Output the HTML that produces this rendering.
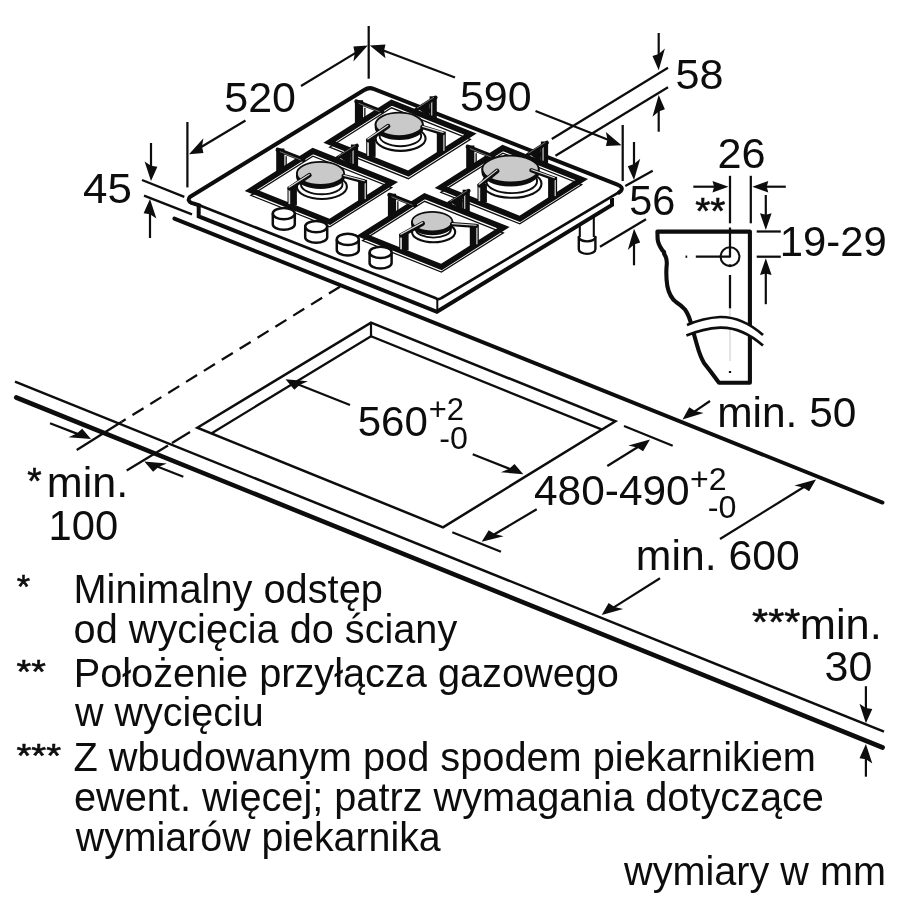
<!DOCTYPE html>
<html lang="pl">
<head>
<meta charset="utf-8">
<title>Wymiary płyty gazowej</title>
<style>
html,body{margin:0;padding:0;background:#fff;}
body{width:900px;height:900px;overflow:hidden;}
svg{display:block;}
text{font-family:"Liberation Sans",Arial,Helvetica,sans-serif;}
svg{will-change:transform;}
</style>
</head>
<body>
<svg width="900" height="900" viewBox="0 0 900 900">
<rect width="900" height="900" fill="#fff"/>
<line x1="174.4" y1="218.6" x2="882.5" y2="502.6" stroke="#0d0d0d" stroke-width="3.9" stroke-linecap="round" />
<line x1="15.0" y1="381.7" x2="884.0" y2="731.7" stroke="#0d0d0d" stroke-width="2.5" stroke-linecap="butt" />
<line x1="16.2" y1="397.5" x2="882.6" y2="747.5" stroke="#0d0d0d" stroke-width="4.6" stroke-linecap="round" />
<path d="M197.3,427.7 L371,322.7 L615.4,421.3 L443,527.3 Z" fill="none" stroke="#0d0d0d" stroke-width="2.5" stroke-linejoin="miter"/>
<path d="M211.7,433.2 L371,336.3 L601.5,429.4" fill="none" stroke="#0d0d0d" stroke-width="2.3" />
<line x1="371.0" y1="322.7" x2="371.0" y2="336.3" stroke="#0d0d0d" stroke-width="2.2" stroke-linecap="butt" />
<line x1="340.0" y1="286.7" x2="121.7" y2="421.7" stroke="#0d0d0d" stroke-width="2.25" stroke-linecap="butt" stroke-dasharray="13 8"/>
<line x1="121.7" y1="421.7" x2="76.7" y2="450.0" stroke="#0d0d0d" stroke-width="2.25" stroke-linecap="butt" />
<line x1="190.0" y1="432.0" x2="172.0" y2="443.0" stroke="#0d0d0d" stroke-width="2.25" stroke-linecap="butt" />
<line x1="168.0" y1="445.5" x2="126.7" y2="470.5" stroke="#0d0d0d" stroke-width="2.25" stroke-linecap="butt" />
<g id="hob">
<path d="M188.3,197.6 L368.7,86.9 L621.5,188.2 L438.7,299.3 Z" fill="#fff" stroke="none" stroke-width="0" />
<path d="M198.7,205 L198.7,216.3 L436.9,311.8 L612.0,204.9 L612.0,198" fill="#fff" stroke="#0d0d0d" stroke-width="4.0" stroke-linejoin="miter"/>
<path d="M198.7,205 L438.7,299.3 L612.0,198 Z" fill="#fff" stroke="none" stroke-width="0" />
<line x1="437.3" y1="300.0" x2="437.3" y2="312.0" stroke="#0d0d0d" stroke-width="2.0" stroke-linecap="butt" />
<path d="M191,203 L200,205.6 L436,298.3 Q438.7,299.90000000000003 441.5,298.0 L620.8,191.2" fill="none" stroke="#0d0d0d" stroke-width="2.7" stroke-linejoin="round"/>
<path d="M199.5,205.4 L191.5,202.9 Q186.5,200.5 190.2,196.7 L364.2,90.0 Q368.7,87.0 373.6,88.8 L616.8,184.3 Q623.8,187.0 621.0,190.8 L619.0,192.6" fill="none" stroke="#0d0d0d" stroke-width="4.0" stroke-linejoin="round" stroke-linecap="round"/>
</g>
<path d="M579.8,225.5 L579.8,238 M593.8,216.8 L593.8,238" fill="none" stroke="#0d0d0d" stroke-width="2.1" />
<path d="M578.8,237 L578.8,249.3 A8.3,4.6 0 0 0 595.4,249.3 L595.4,237" fill="#fff" stroke="#0d0d0d" stroke-width="2.4" stroke-linecap="round"/>
<path d="M578.8,237 A8.3,4.4 0 0 0 595.4,237" fill="none" stroke="#0d0d0d" stroke-width="2.4" />
<g id="b1">
<path d="M329.6,142.1 L391.6,102.7 L470.4,134.2 L408.4,173.6 Z" transform="translate(0,5.1)" fill="none" stroke="#0d0d0d" stroke-width="1.25"/>
<path d="M329.6,142.1 L391.6,102.7 L470.4,134.2 L408.4,173.6 Z" fill="none" stroke="#0d0d0d" stroke-width="5.7" stroke-linejoin="miter"/>
<rect x="354.9" y="100.2" width="8.2" height="23.5" fill="#0d0d0d"/>
<rect x="364.2" y="107.9" width="1.3" height="13.5" fill="#0d0d0d"/>
<line x1="356.4" y1="101.4" x2="382.1" y2="111.6" stroke="#0d0d0d" stroke-width="4.2" stroke-linecap="round"/>
<line x1="358.6" y1="103.3" x2="379.6" y2="111.7" stroke="#9a9a9a" stroke-width="0.7" stroke-linecap="butt"/>
<rect x="429.6" y="96.3" width="7.2" height="22.0" fill="#0d0d0d"/>
<rect x="431.2" y="100.5" width="1.1" height="15.0" fill="#dcdcdc"/>
<line x1="435.6" y1="97.5" x2="416.0" y2="109.9" stroke="#0d0d0d" stroke-width="4.0" stroke-linecap="round"/>
<line x1="434.0" y1="97.2" x2="417.0" y2="108.1" stroke="#9a9a9a" stroke-width="0.7" stroke-linecap="butt"/>
<path d="M429.6,101.5 L429.6,117.5 L419.0,109.5 Z" fill="#0d0d0d"/>
<ellipse cx="400.6" cy="138.6" rx="25.0" ry="12.3" fill="#fff" stroke="#0d0d0d" stroke-width="2.1"/>
<ellipse cx="400.4" cy="136.0" rx="20.8" ry="10.2" fill="#fff" stroke="#0d0d0d" stroke-width="1.9"/>
<path d="M375.6,124.4 L375.6,127.4 A23.6,11.7 0 0 0 422.8,127.4 L422.8,124.4 Z" fill="#0d0d0d" stroke="#0d0d0d" stroke-width="1.8"/>
<ellipse cx="399.2" cy="124.4" rx="23.6" ry="11.7" fill="#c9c9c9" stroke="#0d0d0d" stroke-width="1.8"/>
<rect x="436.8" y="131.6" width="9.0" height="21.3" fill="#0d0d0d"/>
<rect x="443.3" y="134.6" width="1.2" height="16.3" fill="#dcdcdc"/>
<line x1="442.8" y1="133.2" x2="422.3" y2="127.0" stroke="#0d0d0d" stroke-width="4.2" stroke-linecap="round"/>
<line x1="443.1" y1="132.4" x2="422.5" y2="126.4" stroke="#dcdcdc" stroke-width="1.1" stroke-linecap="round"/>
<rect x="366.2" y="138.6" width="9.4" height="18.3" fill="#0d0d0d"/>
<rect x="367.2" y="140.1" width="1.7" height="15.8" fill="#dcdcdc"/>
<line x1="368.4" y1="140.1" x2="388.1" y2="126.2" stroke="#0d0d0d" stroke-width="4.6" stroke-linecap="round"/>
<line x1="367.8" y1="139.0" x2="387.9" y2="125.4" stroke="#dcdcdc" stroke-width="1.2" stroke-linecap="round"/>
</g>
<g id="b3">
<path d="M440.9,187.3 L502.8,148.0 L581.8,179.5 L519.8,218.8 Z" transform="translate(0,5.1)" fill="none" stroke="#0d0d0d" stroke-width="1.25"/>
<path d="M440.9,187.3 L502.8,148.0 L581.8,179.5 L519.8,218.8 Z" fill="none" stroke="#0d0d0d" stroke-width="5.7" stroke-linejoin="miter"/>
<rect x="466.2" y="145.5" width="8.2" height="23.5" fill="#0d0d0d"/>
<rect x="475.5" y="153.2" width="1.3" height="13.5" fill="#0d0d0d"/>
<line x1="467.7" y1="146.7" x2="493.4" y2="156.8" stroke="#0d0d0d" stroke-width="4.2" stroke-linecap="round"/>
<line x1="469.9" y1="148.6" x2="490.9" y2="157.0" stroke="#9a9a9a" stroke-width="0.7" stroke-linecap="butt"/>
<rect x="540.9" y="141.5" width="7.2" height="22.0" fill="#0d0d0d"/>
<rect x="542.5" y="145.7" width="1.1" height="15.0" fill="#dcdcdc"/>
<line x1="546.9" y1="142.7" x2="527.3" y2="155.1" stroke="#0d0d0d" stroke-width="4.0" stroke-linecap="round"/>
<line x1="545.3" y1="142.4" x2="528.3" y2="153.3" stroke="#9a9a9a" stroke-width="0.7" stroke-linecap="butt"/>
<path d="M540.9,146.7 L540.9,162.7 L530.3,154.7 Z" fill="#0d0d0d"/>
<ellipse cx="511.9" cy="183.8" rx="29.6" ry="14.0" fill="#fff" stroke="#0d0d0d" stroke-width="2.1"/>
<ellipse cx="511.7" cy="181.2" rx="25.4" ry="11.9" fill="#fff" stroke="#0d0d0d" stroke-width="1.9"/>
<path d="M482.3,169.1 L482.3,172.1 A28.2,13.4 0 0 0 538.7,172.1 L538.7,169.1 Z" fill="#0d0d0d" stroke="#0d0d0d" stroke-width="1.8"/>
<ellipse cx="510.5" cy="169.1" rx="28.2" ry="13.4" fill="#c9c9c9" stroke="#0d0d0d" stroke-width="1.8"/>
<rect x="548.1" y="176.8" width="9.0" height="21.3" fill="#0d0d0d"/>
<rect x="554.6" y="179.8" width="1.2" height="16.3" fill="#dcdcdc"/>
<line x1="554.1" y1="178.4" x2="531.4" y2="170.3" stroke="#0d0d0d" stroke-width="4.2" stroke-linecap="round"/>
<line x1="554.4" y1="177.7" x2="531.6" y2="169.7" stroke="#dcdcdc" stroke-width="1.1" stroke-linecap="round"/>
<rect x="477.5" y="183.8" width="9.4" height="18.3" fill="#0d0d0d"/>
<rect x="478.5" y="185.3" width="1.7" height="15.8" fill="#dcdcdc"/>
<line x1="479.7" y1="185.3" x2="497.2" y2="170.9" stroke="#0d0d0d" stroke-width="4.6" stroke-linecap="round"/>
<line x1="479.1" y1="184.2" x2="497.0" y2="170.1" stroke="#dcdcdc" stroke-width="1.2" stroke-linecap="round"/>
</g>
<g id="b2">
<path d="M250.9,190.3 L312.9,151.0 L391.8,182.5 L329.8,221.8 Z" transform="translate(0,5.1)" fill="none" stroke="#0d0d0d" stroke-width="1.25"/>
<path d="M250.9,190.3 L312.9,151.0 L391.8,182.5 L329.8,221.8 Z" fill="none" stroke="#0d0d0d" stroke-width="5.7" stroke-linejoin="miter"/>
<rect x="276.2" y="148.5" width="8.2" height="23.5" fill="#0d0d0d"/>
<rect x="285.5" y="156.2" width="1.3" height="13.5" fill="#0d0d0d"/>
<line x1="277.7" y1="149.7" x2="303.4" y2="159.8" stroke="#0d0d0d" stroke-width="4.2" stroke-linecap="round"/>
<line x1="279.9" y1="151.6" x2="300.9" y2="160.0" stroke="#9a9a9a" stroke-width="0.7" stroke-linecap="butt"/>
<rect x="350.9" y="144.5" width="7.2" height="22.0" fill="#0d0d0d"/>
<rect x="352.5" y="148.7" width="1.1" height="15.0" fill="#dcdcdc"/>
<line x1="356.9" y1="145.7" x2="337.3" y2="158.1" stroke="#0d0d0d" stroke-width="4.0" stroke-linecap="round"/>
<line x1="355.3" y1="145.4" x2="338.3" y2="156.3" stroke="#9a9a9a" stroke-width="0.7" stroke-linecap="butt"/>
<path d="M350.9,149.7 L350.9,165.7 L340.3,157.7 Z" fill="#0d0d0d"/>
<ellipse cx="321.9" cy="186.8" rx="25.0" ry="12.2" fill="#fff" stroke="#0d0d0d" stroke-width="2.1"/>
<ellipse cx="321.7" cy="184.2" rx="20.8" ry="10.1" fill="#fff" stroke="#0d0d0d" stroke-width="1.9"/>
<path d="M296.9,173.4 L296.9,176.4 A23.6,11.6 0 0 0 344.1,176.4 L344.1,173.4 Z" fill="#0d0d0d" stroke="#0d0d0d" stroke-width="1.8"/>
<ellipse cx="320.5" cy="173.4" rx="23.6" ry="11.6" fill="#c9c9c9" stroke="#0d0d0d" stroke-width="1.8"/>
<rect x="358.1" y="179.8" width="9.0" height="21.3" fill="#0d0d0d"/>
<rect x="364.6" y="182.8" width="1.2" height="16.3" fill="#dcdcdc"/>
<line x1="364.1" y1="181.4" x2="343.6" y2="176.0" stroke="#0d0d0d" stroke-width="4.2" stroke-linecap="round"/>
<line x1="364.4" y1="180.7" x2="343.8" y2="175.4" stroke="#dcdcdc" stroke-width="1.1" stroke-linecap="round"/>
<rect x="287.5" y="186.8" width="9.4" height="18.3" fill="#0d0d0d"/>
<rect x="288.5" y="188.3" width="1.7" height="15.8" fill="#dcdcdc"/>
<line x1="289.7" y1="188.3" x2="309.4" y2="175.2" stroke="#0d0d0d" stroke-width="4.6" stroke-linecap="round"/>
<line x1="289.1" y1="187.2" x2="309.2" y2="174.4" stroke="#dcdcdc" stroke-width="1.2" stroke-linecap="round"/>
</g>
<g id="b4">
<path d="M362.6,235.5 L424.6,196.2 L503.4,227.7 L441.4,267.0 Z" transform="translate(0,5.1)" fill="none" stroke="#0d0d0d" stroke-width="1.25"/>
<path d="M362.6,235.5 L424.6,196.2 L503.4,227.7 L441.4,267.0 Z" fill="none" stroke="#0d0d0d" stroke-width="5.7" stroke-linejoin="miter"/>
<rect x="387.9" y="193.7" width="8.2" height="23.5" fill="#0d0d0d"/>
<rect x="397.2" y="201.3" width="1.3" height="13.5" fill="#0d0d0d"/>
<line x1="389.4" y1="194.8" x2="415.1" y2="205.0" stroke="#0d0d0d" stroke-width="4.2" stroke-linecap="round"/>
<line x1="391.6" y1="196.8" x2="412.6" y2="205.2" stroke="#9a9a9a" stroke-width="0.7" stroke-linecap="butt"/>
<rect x="462.6" y="189.7" width="7.2" height="22.0" fill="#0d0d0d"/>
<rect x="464.2" y="193.9" width="1.1" height="15.0" fill="#dcdcdc"/>
<line x1="468.6" y1="190.9" x2="449.0" y2="203.3" stroke="#0d0d0d" stroke-width="4.0" stroke-linecap="round"/>
<line x1="467.0" y1="190.6" x2="450.0" y2="201.5" stroke="#9a9a9a" stroke-width="0.7" stroke-linecap="butt"/>
<path d="M462.6,194.9 L462.6,210.9 L452.0,202.9 Z" fill="#0d0d0d"/>
<ellipse cx="433.6" cy="232.0" rx="21.6" ry="10.3" fill="#fff" stroke="#0d0d0d" stroke-width="2.1"/>
<ellipse cx="433.4" cy="229.4" rx="17.4" ry="8.2" fill="#fff" stroke="#0d0d0d" stroke-width="1.9"/>
<path d="M412.0,221.6 L412.0,224.6 A20.2,9.7 0 0 0 452.4,224.6 L452.4,221.6 Z" fill="#0d0d0d" stroke="#0d0d0d" stroke-width="1.8"/>
<ellipse cx="432.2" cy="221.6" rx="20.2" ry="9.7" fill="#c9c9c9" stroke="#0d0d0d" stroke-width="1.8"/>
<rect x="469.8" y="224.3" width="9.0" height="22.0" fill="#0d0d0d"/>
<rect x="476.3" y="227.3" width="1.2" height="17.0" fill="#dcdcdc"/>
<line x1="475.8" y1="225.9" x2="452.0" y2="224.2" stroke="#0d0d0d" stroke-width="4.2" stroke-linecap="round"/>
<line x1="476.1" y1="225.2" x2="452.2" y2="223.6" stroke="#dcdcdc" stroke-width="1.1" stroke-linecap="round"/>
<rect x="399.2" y="233.8" width="9.4" height="16.5" fill="#0d0d0d"/>
<rect x="400.2" y="235.3" width="1.7" height="14.0" fill="#dcdcdc"/>
<line x1="401.4" y1="235.3" x2="422.7" y2="223.4" stroke="#0d0d0d" stroke-width="4.6" stroke-linecap="round"/>
<line x1="400.8" y1="234.2" x2="422.5" y2="222.6" stroke="#dcdcdc" stroke-width="1.2" stroke-linecap="round"/>
</g>
<path d="M272.8,213.6 L272.8,224.2 A11.0,5.6 0 0 0 294.8,224.2 L294.8,213.6" fill="#fff" stroke="#0d0d0d" stroke-width="2.5" />
<ellipse cx="283.8" cy="213.6" rx="11.0" ry="5.6" fill="#fff" stroke="#0d0d0d" stroke-width="2.5"/>
<path d="M305.2,226.6 L305.2,237.2 A11.0,5.6 0 0 0 327.2,237.2 L327.2,226.6" fill="#fff" stroke="#0d0d0d" stroke-width="2.5" />
<ellipse cx="316.2" cy="226.6" rx="11.0" ry="5.6" fill="#fff" stroke="#0d0d0d" stroke-width="2.5"/>
<path d="M336.8,239.4 L336.8,250.0 A11.0,5.6 0 0 0 358.8,250.0 L358.8,239.4" fill="#fff" stroke="#0d0d0d" stroke-width="2.5" />
<ellipse cx="347.8" cy="239.4" rx="11.0" ry="5.6" fill="#fff" stroke="#0d0d0d" stroke-width="2.5"/>
<path d="M369.6,252.4 L369.6,263.0 A11.0,5.6 0 0 0 391.6,263.0 L391.6,252.4" fill="#fff" stroke="#0d0d0d" stroke-width="2.5" />
<ellipse cx="380.6" cy="252.4" rx="11.0" ry="5.6" fill="#fff" stroke="#0d0d0d" stroke-width="2.5"/>
<line x1="142.0" y1="180.0" x2="184.3" y2="196.9" stroke="#0d0d0d" stroke-width="2.25" stroke-linecap="butt" />
<line x1="144.0" y1="195.6" x2="192.0" y2="214.4" stroke="#0d0d0d" stroke-width="2.25" stroke-linecap="butt" />
<line x1="151.0" y1="143.0" x2="151.0" y2="167.2" stroke="#0d0d0d" stroke-width="2.2" stroke-linecap="butt" />
<polygon points="151.0,181.0 157.4,166.8 151.0,165.8 144.6,161.6" fill="#0d0d0d"/>
<line x1="150.0" y1="238.0" x2="150.0" y2="212.8" stroke="#0d0d0d" stroke-width="2.2" stroke-linecap="butt" />
<polygon points="150.0,199.0 156.4,218.4 150.0,214.2 143.6,213.2" fill="#0d0d0d"/>
<line x1="187.4" y1="122.0" x2="187.4" y2="187.4" stroke="#0d0d0d" stroke-width="2.25" stroke-linecap="butt" />
<line x1="368.7" y1="26.0" x2="368.7" y2="78.7" stroke="#0d0d0d" stroke-width="2.25" stroke-linecap="butt" />
<line x1="622.7" y1="125.0" x2="622.7" y2="181.0" stroke="#0d0d0d" stroke-width="2.25" stroke-linecap="butt" />
<line x1="245.5" y1="120.5" x2="200.8" y2="147.2" stroke="#0d0d0d" stroke-width="2.2" stroke-linecap="butt" />
<polygon points="189.0,154.3 203.4,153.1 202.0,146.5 203.4,138.2" fill="#0d0d0d"/>
<line x1="301.0" y1="86.0" x2="356.0" y2="52.6" stroke="#0d0d0d" stroke-width="2.2" stroke-linecap="butt" />
<polygon points="367.8,45.4 353.4,61.6 354.8,53.3 353.4,46.6" fill="#0d0d0d"/>
<line x1="455.0" y1="77.5" x2="382.7" y2="50.3" stroke="#0d0d0d" stroke-width="2.2" stroke-linecap="butt" />
<polygon points="369.8,45.4 385.5,58.2 384.0,50.8 385.5,44.5" fill="#0d0d0d"/>
<line x1="535.5" y1="111.0" x2="608.7" y2="140.1" stroke="#0d0d0d" stroke-width="2.2" stroke-linecap="butt" />
<polygon points="621.5,145.2 605.9,145.9 607.4,139.6 605.9,132.1" fill="#0d0d0d"/>
<line x1="551.8" y1="139.0" x2="668.0" y2="67.7" stroke="#0d0d0d" stroke-width="2.25" stroke-linecap="butt" />
<line x1="555.5" y1="155.7" x2="668.0" y2="87.2" stroke="#0d0d0d" stroke-width="2.25" stroke-linecap="butt" />
<line x1="658.7" y1="33.0" x2="658.7" y2="55.3" stroke="#0d0d0d" stroke-width="2.2" stroke-linecap="butt" />
<polygon points="658.7,70.3 664.9,48.5 658.7,53.9 652.5,56.1" fill="#0d0d0d"/>
<line x1="658.7" y1="131.7" x2="658.7" y2="110.0" stroke="#0d0d0d" stroke-width="2.2" stroke-linecap="butt" />
<polygon points="658.7,95.0 664.9,109.2 658.7,111.4 652.5,116.8" fill="#0d0d0d"/>
<line x1="625.3" y1="186.0" x2="652.7" y2="170.7" stroke="#0d0d0d" stroke-width="2.25" stroke-linecap="butt" />
<line x1="600.0" y1="246.7" x2="646.0" y2="219.3" stroke="#0d0d0d" stroke-width="2.25" stroke-linecap="butt" />
<line x1="634.0" y1="142.0" x2="634.0" y2="165.5" stroke="#0d0d0d" stroke-width="2.2" stroke-linecap="butt" />
<polygon points="634.0,180.0 640.2,158.7 634.0,164.1 627.8,166.3" fill="#0d0d0d"/>
<line x1="634.0" y1="265.3" x2="634.0" y2="243.2" stroke="#0d0d0d" stroke-width="2.2" stroke-linecap="butt" />
<polygon points="634.0,228.7 640.2,242.4 634.0,244.6 627.8,250.0" fill="#0d0d0d"/>
<g id="bracket">
<path d="M719,382.8 L711,372 L704,363 Q700,356 697,345 L691.6,326 Q689.5,316 685,309.5 Q682,306 676,302 Q669.5,297 667.3,286 Q665.8,276 666.6,266 Q667.3,261 665.8,257 L664,253.5 Q664.8,252 662.5,250.5 Q658,244 657.6,239 L657.4,231.6 L749.9,231.6 L749.9,382.8 L719,382.8 Z" fill="none" stroke="#0d0d0d" stroke-width="4.1" stroke-linejoin="round"/>
<line x1="730.0" y1="175.8" x2="730.0" y2="223.3" stroke="#0d0d0d" stroke-width="2.25" stroke-linecap="butt" />
<line x1="730.0" y1="227.5" x2="730.0" y2="257.5" stroke="#0d0d0d" stroke-width="2.25" stroke-linecap="butt" />
<line x1="730.0" y1="264.3" x2="730.0" y2="265.8" stroke="#0d0d0d" stroke-width="2.25" stroke-linecap="butt" />
<line x1="730.0" y1="275.0" x2="730.0" y2="308.5" stroke="#0d0d0d" stroke-width="2.25" stroke-linecap="butt" />
<line x1="730" y1="308.5" x2="730" y2="361" stroke="#dedede" stroke-width="1.6"/>
<line x1="730.0" y1="371.0" x2="730.0" y2="373.0" stroke="#0d0d0d" stroke-width="2.25" stroke-linecap="butt" />
<line x1="685.5" y1="256.7" x2="687.2" y2="256.7" stroke="#0d0d0d" stroke-width="2.25" stroke-linecap="butt" />
<line x1="695.8" y1="256.7" x2="730.0" y2="256.7" stroke="#0d0d0d" stroke-width="2.25" stroke-linecap="butt" />
<line x1="756.7" y1="256.7" x2="780.8" y2="256.7" stroke="#0d0d0d" stroke-width="2.25" stroke-linecap="butt" />
<circle cx="730" cy="256.7" r="9.4" fill="none" stroke="#0d0d0d" stroke-width="2.1"/>
<path d="M686.4,335.6 Q703,328.5 720,327.6 Q742,327 763,345.6 L763,335 Q742,316.5 720,317 Q703,318 687,325 Z" fill="#fff" stroke="none" stroke-width="0" />
<path d="M687,325 Q703,318 720,317 Q742,316.5 763,335" fill="none" stroke="#0d0d0d" stroke-width="2.7" />
<path d="M686.4,335.6 Q703,328.5 720,327.6 Q742,327 763,345.6" fill="none" stroke="#0d0d0d" stroke-width="2.7" />
<line x1="750.8" y1="175.8" x2="750.8" y2="223.3" stroke="#0d0d0d" stroke-width="2.25" stroke-linecap="butt" />
<line x1="693.3" y1="186.7" x2="715.5" y2="186.7" stroke="#0d0d0d" stroke-width="2.2" stroke-linecap="butt" />
<polygon points="728.5,186.7 712.5,192.5 714.1,186.7 712.5,180.9" fill="#0d0d0d"/>
<line x1="785.8" y1="186.7" x2="765.3" y2="186.7" stroke="#0d0d0d" stroke-width="2.2" stroke-linecap="butt" />
<polygon points="752.3,186.7 768.3,192.5 766.7,186.7 768.3,180.9" fill="#0d0d0d"/>
<line x1="756.7" y1="231.5" x2="780.8" y2="231.5" stroke="#0d0d0d" stroke-width="2.25" stroke-linecap="butt" />
<line x1="765.8" y1="195.0" x2="765.8" y2="216.2" stroke="#0d0d0d" stroke-width="2.2" stroke-linecap="butt" />
<polygon points="765.8,229.9 771.6,213.2 765.8,214.8 760.0,213.2" fill="#0d0d0d"/>
<line x1="765.8" y1="304.2" x2="765.8" y2="272.0" stroke="#0d0d0d" stroke-width="2.2" stroke-linecap="butt" />
<polygon points="765.8,258.3 771.6,275.0 765.8,273.4 760.0,275.0" fill="#0d0d0d"/>
</g>
<line x1="50.0" y1="423.3" x2="78.1" y2="434.1" stroke="#0d0d0d" stroke-width="2.2" stroke-linecap="butt" />
<polygon points="91.0,439.0 82.2,428.8 76.8,433.6 68.5,437.2" fill="#0d0d0d"/>
<line x1="183.3" y1="476.7" x2="157.2" y2="466.5" stroke="#0d0d0d" stroke-width="2.2" stroke-linecap="butt" />
<polygon points="144.3,461.5 166.8,463.4 158.5,467.0 153.1,471.8" fill="#0d0d0d"/>
<line x1="350.0" y1="405.0" x2="298.3" y2="384.4" stroke="#0d0d0d" stroke-width="2.2" stroke-linecap="butt" />
<polygon points="285.5,379.3 307.9,381.3 299.6,384.9 294.3,389.7" fill="#0d0d0d"/>
<line x1="472.7" y1="454.3" x2="510.5" y2="469.2" stroke="#0d0d0d" stroke-width="2.2" stroke-linecap="butt" />
<polygon points="523.3,474.3 514.5,463.9 509.2,468.7 500.9,472.3" fill="#0d0d0d"/>
<line x1="624.0" y1="426.0" x2="672.7" y2="445.7" stroke="#0d0d0d" stroke-width="2.25" stroke-linecap="butt" />
<line x1="452.3" y1="532.3" x2="501.0" y2="551.7" stroke="#0d0d0d" stroke-width="2.25" stroke-linecap="butt" />
<line x1="607.3" y1="466.0" x2="638.3" y2="446.8" stroke="#0d0d0d" stroke-width="2.2" stroke-linecap="butt" />
<polygon points="650.0,439.5 643.1,451.3 637.1,447.5 628.4,445.4" fill="#0d0d0d"/>
<line x1="536.7" y1="509.3" x2="493.6" y2="534.8" stroke="#0d0d0d" stroke-width="2.2" stroke-linecap="butt" />
<polygon points="481.7,541.8 503.6,536.3 494.8,534.1 488.7,530.2" fill="#0d0d0d"/>
<line x1="710.0" y1="401.0" x2="694.0" y2="411.8" stroke="#0d0d0d" stroke-width="2.2" stroke-linecap="butt" />
<polygon points="682.5,419.5 703.6,413.0 695.1,411.0 689.3,407.2" fill="#0d0d0d"/>
<line x1="720.0" y1="539.0" x2="804.3" y2="486.8" stroke="#0d0d0d" stroke-width="2.2" stroke-linecap="butt" />
<polygon points="816.0,479.5 809.1,491.3 803.1,487.5 794.4,485.4" fill="#0d0d0d"/>
<line x1="660.0" y1="578.3" x2="613.4" y2="607.6" stroke="#0d0d0d" stroke-width="2.2" stroke-linecap="butt" />
<polygon points="601.7,615.0 623.2,609.0 614.6,606.9 608.6,603.1" fill="#0d0d0d"/>
<line x1="865.9" y1="686.2" x2="865.9" y2="709.4" stroke="#0d0d0d" stroke-width="2.2" stroke-linecap="butt" />
<polygon points="865.9,723.2 872.3,709.0 865.9,708.0 859.5,703.8" fill="#0d0d0d"/>
<line x1="865.9" y1="776.7" x2="865.9" y2="757.8" stroke="#0d0d0d" stroke-width="2.2" stroke-linecap="butt" />
<polygon points="865.9,744.0 872.3,763.4 865.9,759.2 859.5,758.2" fill="#0d0d0d"/>
<g font-family="'Liberation Sans', Arial, Helvetica, sans-serif" fill="#0d0d0d">
<text x="224.28" y="112.00" font-size="42.3" textLength="71.70" lengthAdjust="spacingAndGlyphs">520</text>
<text x="459.98" y="110.70" font-size="42.3" textLength="71.70" lengthAdjust="spacingAndGlyphs">590</text>
<text x="675.57" y="89.30" font-size="42.3" textLength="48.00" lengthAdjust="spacingAndGlyphs">58</text>
<text x="82.99" y="203.00" font-size="42.3" textLength="48.85" lengthAdjust="spacingAndGlyphs">45</text>
<text x="629.24" y="214.60" font-size="42.3" textLength="46.08" lengthAdjust="spacingAndGlyphs">56</text>
<text x="717.42" y="167.70" font-size="42.3" textLength="48.18" lengthAdjust="spacingAndGlyphs">26</text>
<text x="695.18" y="224.25" font-size="36" textLength="30.13" lengthAdjust="spacingAndGlyphs" stroke="#0d0d0d" stroke-width="0.55">**</text>
<text x="779.81" y="256.20" font-size="42.3" textLength="106.97" lengthAdjust="spacingAndGlyphs">19-29</text>
<text x="357.71" y="436.00" font-size="42.3" textLength="70.23" lengthAdjust="spacingAndGlyphs">560</text>
<text x="428.69" y="419.60" font-size="31.5" textLength="35.27" lengthAdjust="spacingAndGlyphs">+2</text>
<text x="439.27" y="449.20" font-size="31.5" textLength="28.69" lengthAdjust="spacingAndGlyphs">-0</text>
<text x="534.03" y="505.00" font-size="42.3" textLength="155.63" lengthAdjust="spacingAndGlyphs">480-490</text>
<text x="690.13" y="490.30" font-size="31.5" textLength="36.58" lengthAdjust="spacingAndGlyphs">+2</text>
<text x="707.77" y="518.00" font-size="31.5" textLength="28.69" lengthAdjust="spacingAndGlyphs">-0</text>
<text x="717.18" y="427.10" font-size="42.3" textLength="139.28" lengthAdjust="spacingAndGlyphs">min. 50</text>
<text x="635.86" y="569.80" font-size="42.3" textLength="163.80" lengthAdjust="spacingAndGlyphs">min. 600</text>
<text x="752.14" y="634.75" font-size="36" textLength="48.11" lengthAdjust="spacingAndGlyphs" stroke="#0d0d0d" stroke-width="0.55">***</text>
<text x="799.72" y="639.10" font-size="42.3" textLength="82.05" lengthAdjust="spacingAndGlyphs">min.</text>
<text x="824.56" y="680.90" font-size="42.3" textLength="47.82" lengthAdjust="spacingAndGlyphs">30</text>
<text x="27.30" y="493.55" font-size="36" textLength="14.37" lengthAdjust="spacingAndGlyphs" stroke="#0d0d0d" stroke-width="0.55">*</text>
<text x="46.84" y="497.00" font-size="42.3" textLength="81.40" lengthAdjust="spacingAndGlyphs">min.</text>
<text x="48.52" y="539.90" font-size="42.3" textLength="69.71" lengthAdjust="spacingAndGlyphs">100</text>
<text x="16.75" y="597.52" font-size="34" textLength="13.39" lengthAdjust="spacingAndGlyphs" stroke="#0d0d0d" stroke-width="0.55">*</text>
<text x="73.44" y="603.00" font-size="39.7" textLength="309.43" lengthAdjust="spacingAndGlyphs" transform="matrix(1 0 0 1.02 0 -12.060)">Minimalny odstęp</text>
<text x="73.63" y="643.30" font-size="39.7" textLength="383.64" lengthAdjust="spacingAndGlyphs" transform="matrix(1 0 0 1.02 0 -12.866)">od wycięcia do ściany</text>
<text x="16.49" y="683.32" font-size="34" textLength="29.29" lengthAdjust="spacingAndGlyphs" stroke="#0d0d0d" stroke-width="0.55">**</text>
<text x="73.74" y="687.10" font-size="39.7" textLength="545.22" lengthAdjust="spacingAndGlyphs" transform="matrix(1 0 0 1.02 0 -13.742)">Położenie przyłącza gazowego</text>
<text x="75.06" y="726.40" font-size="39.7" textLength="188.56" lengthAdjust="spacingAndGlyphs" transform="matrix(1 0 0 1.02 0 -14.528)">w wycięciu</text>
<text x="16.48" y="767.22" font-size="34" textLength="44.72" lengthAdjust="spacingAndGlyphs" stroke="#0d0d0d" stroke-width="0.55">***</text>
<text x="73.54" y="771.20" font-size="39.7" textLength="742.38" lengthAdjust="spacingAndGlyphs" transform="matrix(1 0 0 1.02 0 -15.424)">Z wbudowanym pod spodem piekarnikiem</text>
<text x="74.01" y="811.00" font-size="39.7" textLength="749.95" lengthAdjust="spacingAndGlyphs" transform="matrix(1 0 0 1.02 0 -16.220)">ewent. więcej; patrz wymagania dotyczące</text>
<text x="75.76" y="850.60" font-size="39.7" textLength="364.94" lengthAdjust="spacingAndGlyphs" transform="matrix(1 0 0 1.02 0 -17.012)">wymiarów piekarnika</text>
<text x="624.06" y="884.80" font-size="39.7" textLength="261.85" lengthAdjust="spacingAndGlyphs" transform="matrix(1 0 0 1.02 0 -17.696)">wymiary w mm</text>
</g>
</svg>
</body>
</html>
